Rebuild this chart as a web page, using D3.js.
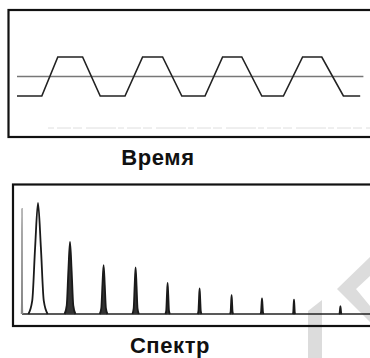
<!DOCTYPE html>
<html>
<head>
<meta charset="utf-8">
<script src="https://cdn.jsdelivr.net/npm/d3@7"></script>
<style>
  html, body { margin: 0; padding: 0; background: #fff; }
  svg { display: block; }
  .label { font-family: 'Liberation Sans', Arial, sans-serif; font-weight: bold; font-size: 22px; letter-spacing: 0.6px; fill: #111; }
</style>
</head>
<body>
<svg id="chart"></svg>
<script>
// time signal: corner times (periods) and levels (-1 low, 1 high)
const waveTimes = [0, 0.31, 0.51, 0.82, 1.04, 1.35, 1.57, 1.82, 2.06, 2.35, 2.57, 2.81, 3.06, 3.33, 3.57, 3.81, 4.08, 4.29]
const waveLevels = [-1, -1, 1, 1, -1, -1, 1, 1, -1, -1, 1, 1, -1, -1, 1, 1, -1, -1]
const zeroLine = [0, 4.33]

// spectrum: harmonic frequency, relative amplitude, bandwidth
const specFreq = [0.5, 1.0, 2.0, 3.05, 4.05, 5.05, 6.05, 7.05, 8.0, 9.0, 10.45]
const specAmp = [0.95, 1.0, 0.65, 0.44, 0.42, 0.28, 0.23, 0.17, 0.14, 0.13, 0.07]
const specWidth = [0.02, 0.3, 0.17, 0.12, 0.1, 0.07, 0.06, 0.05, 0.05, 0.04, 0.04]

const labelTop = 'Время'
const labelBottom = 'Спектр'

const w = 370
const h = 358

main()

function main() {
  const svg = d3.select('#chart').attr('width', w).attr('height', h)
  drawWatermark(svg)
  drawTime(svg)
  drawSpectrum(svg)
}

function drawWatermark(svg) {
  // faint grey scan watermark in the lower right corner
  svg.append('path')
    .attr('d', 'M308,311 L322,300 L322,358 L308,358 Z')
    .attr('fill', '#dcdcdc')
  svg.append('path')
    .attr('d', 'M370,257 L337,289 L370,322 L370,306 L356,289 L370,276 Z')
    .attr('fill', '#dcdcdc')
}

function drawTime(svg) {
  const x = d3.scaleLinear().domain([0, 4.3]).range([17, 361])
  const y = d3.scaleLinear().domain([-1, 1]).range([96, 57])

  svg.append('line')
    .attr('x1', 48).attr('x2', 372).attr('y1', 128).attr('y2', 128)
    .attr('stroke', '#dedede').attr('stroke-width', 1)
    .attr('stroke-dasharray', '6 3 14 2 9 4 30 2')

  svg.append('rect')
    .attr('x', 8.5).attr('y', 10).attr('width', 380).attr('height', 127)
    .attr('fill', 'none').attr('stroke', '#111').attr('stroke-width', 2.2)

  svg.append('line')
    .attr('x1', x(zeroLine[0])).attr('x2', x(zeroLine[1]))
    .attr('y1', y(0)).attr('y2', y(0))
    .attr('stroke', '#777').attr('stroke-width', 1.6)

  const pts = waveTimes.map((t, i) => [t, waveLevels[i]])
  const line = d3.line().x((d) => x(d[0])).y((d) => y(d[1]))
  svg.append('path')
    .datum(pts)
    .attr('d', line)
    .attr('fill', 'none')
    .attr('stroke', '#222')
    .attr('stroke-width', 1.6)

  svg.append('text')
    .attr('class', 'label')
    .attr('x', 158).attr('y', 165)
    .attr('text-anchor', 'middle')
    .text(labelTop)
}

function drawSpectrum(svg) {
  const x = d3.scaleLinear().domain([0, 11]).range([6, 358])
  const y = d3.scaleLinear().domain([0, 1]).range([314, 203])

  svg.append('rect')
    .attr('x', 13).attr('y', 184.5).attr('width', 380).attr('height', 141.5)
    .attr('fill', 'none').attr('stroke', '#111').attr('stroke-width', 2.2)

  svg.append('line')
    .attr('x1', x(0.5)).attr('x2', 372).attr('y1', y(0)).attr('y2', y(0))
    .attr('stroke', '#222').attr('stroke-width', 1.4)

  const peaks = specFreq.map((f, i) => ({ f, a: specAmp[i], bw: specWidth[i] }))
  const line = d3.line().x((d) => x(d[0])).y((d) => y(d[1])).curve(d3.curveMonotoneX)

  svg.selectAll('path.peak')
    .data(peaks)
    .enter()
    .append('path')
    .attr('class', 'peak')
    .attr('d', (d) => line([
      [d.f - d.bw, 0],
      [d.f - d.bw * 0.6, d.a * 0.12],
      [d.f - d.bw * 0.3, d.a * 0.6],
      [d.f, d.a],
      [d.f + d.bw * 0.3, d.a * 0.6],
      [d.f + d.bw * 0.6, d.a * 0.12],
      [d.f + d.bw, 0],
    ]))
    .attr('fill', (d, i) => (i > 1 ? '#333' : 'none'))
    .attr('stroke', (d, i) => (i === 0 ? '#888' : '#1a1a1a'))
    .attr('stroke-width', (d, i) => (i === 0 ? 1.2 : 1.8))

  svg.append('text')
    .attr('class', 'label')
    .attr('x', 170).attr('y', 353)
    .attr('text-anchor', 'middle')
    .text(labelBottom)
}
</script>
</body>
</html>
